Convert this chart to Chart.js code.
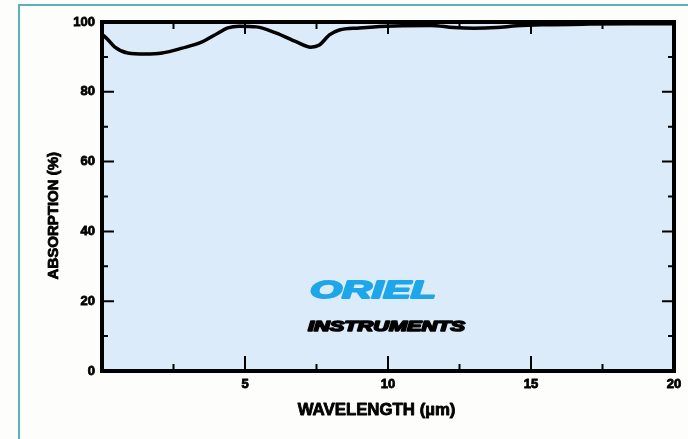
<!DOCTYPE html>
<html>
<head>
<meta charset="utf-8">
<script src="https://cdn.jsdelivr.net/npm/chart.js@4.4.1/dist/chart.umd.min.js"></script>
<style>
  html, body { margin: 0; padding: 0; background: #fdfdfb; }
  #wrap { position: relative; width: 688px; height: 439px; }
  canvas { display: block; }
</style>
</head>
<body>
<div id="wrap"><canvas id="c" width="688" height="439"></canvas></div>
<script>
// Absorption spectrum, wavelength in micrometres vs. absorption in percent
const wavelength = [0, 0.2, 0.45, 0.9, 1.5, 2.1, 2.8, 3.5, 4.05, 4.4, 4.8, 5.4, 6.1, 6.8, 7.3, 7.6, 7.95, 8.3, 9.0, 9.5, 10.5, 11.5, 12.3, 13.0, 13.8, 14.5, 15.5, 17.0, 18.5, 20.0];
const absorption = [96.5, 95.0, 92.8, 91.1, 90.8, 91.1, 92.5, 94.3, 96.8, 98.3, 98.8, 98.6, 96.8, 94.3, 92.8, 93.4, 96.3, 97.7, 98.3, 98.6, 98.9, 99.0, 98.4, 98.2, 98.4, 98.9, 99.2, 99.4, 99.5, 99.5];

// Axis ticks
const xMajorTicks = [5, 10, 15];
const xMinorTicks = [2.5, 7.5, 12.5, 17.5];
const yMajorTicks = [20, 40, 60, 80];
const yMinorTicks = [10, 30, 50, 70, 90];
const xTickLabels = ['', '5', '10', '15', '20'];
const yTickLabels = ['0', '20', '40', '60', '80', '100'];
const xTitle = 'WAVELENGTH (µm)';
const yTitle = 'ABSORPTION (%)';

const FONT = "'Liberation Sans', Arial, sans-serif";

// Heavy text: fill plus a thin stroke in the same colour
function heavyText(ctx, text, x, y, color, weight) {
  ctx.fillStyle = color;
  ctx.strokeStyle = color;
  ctx.lineWidth = weight;
  ctx.lineJoin = 'round';
  ctx.strokeText(text, x, y);
  ctx.fillText(text, x, y);
}

// Page frame, plot background, framing box, inward ticks, titles and logo
const framePlugin = {
  id: 'framePlugin',
  beforeDraw(chart) {
    const ctx = chart.ctx;
    const a = chart.chartArea;
    ctx.save();
    ctx.fillStyle = '#fdfdfb';
    ctx.fillRect(0, 0, chart.width, chart.height);
    ctx.strokeStyle = '#5fb0bd';
    ctx.lineWidth = 2;
    ctx.beginPath();
    ctx.moveTo(19, chart.height);
    ctx.lineTo(19, 5);
    ctx.lineTo(chart.width, 5);
    ctx.stroke();
    ctx.fillStyle = '#dbebfa';
    ctx.fillRect(a.left, a.top, a.right - a.left, a.bottom - a.top);
    ctx.restore();
  },
  afterDatasetsDraw(chart) {
    const ctx = chart.ctx;
    const a = chart.chartArea;
    const xs = chart.scales.x, ys = chart.scales.y;
    ctx.save();
    ctx.strokeStyle = '#000';
    ctx.lineWidth = 2;
    ctx.beginPath();
    xMajorTicks.forEach(v => {
      const px = xs.getPixelForValue(v);
      ctx.moveTo(px, a.bottom); ctx.lineTo(px, a.bottom - 15);
      ctx.moveTo(px, a.top); ctx.lineTo(px, a.top + 12);
    });
    xMinorTicks.forEach(v => {
      const px = xs.getPixelForValue(v);
      ctx.moveTo(px, a.bottom); ctx.lineTo(px, a.bottom - 7);
      ctx.moveTo(px, a.top); ctx.lineTo(px, a.top + 7);
    });
    yMajorTicks.forEach(v => {
      const py = ys.getPixelForValue(v);
      ctx.moveTo(a.left, py); ctx.lineTo(a.left + 12, py);
      ctx.moveTo(a.right, py); ctx.lineTo(a.right - 12, py);
    });
    yMinorTicks.forEach(v => {
      const py = ys.getPixelForValue(v);
      ctx.moveTo(a.left, py); ctx.lineTo(a.left + 6, py);
      ctx.moveTo(a.right, py); ctx.lineTo(a.right - 6, py);
    });
    ctx.stroke();
    ctx.lineWidth = 4;
    ctx.strokeRect(a.left, a.top, a.right - a.left, a.bottom - a.top);

    // Axis titles
    ctx.textAlign = 'center';
    ctx.textBaseline = 'middle';
    ctx.font = `bold 16px ${FONT}`;
    ctx.save();
    ctx.translate(xs.getPixelForValue(9.6), 411);
    ctx.scale(1.05, 1);
    heavyText(ctx, xTitle, 0, 0, '#000', 0.8);
    ctx.restore();
    ctx.save();
    ctx.translate(54, ys.getPixelForValue(44.5));
    ctx.rotate(-Math.PI / 2);
    ctx.font = `bold 15px ${FONT}`;
    heavyText(ctx, yTitle, 0, 0, '#000', 0.8);
    ctx.restore();

    // Logo
    ctx.textAlign = 'left';
    ctx.textBaseline = 'alphabetic';
    ctx.save();
    ctx.translate(xs.getPixelForValue(7.27), ys.getPixelForValue(20.9));
    ctx.scale(1.72, 1);
    ctx.font = `italic bold 24px ${FONT}`;
    heavyText(ctx, 'ORIEL', 0, 0, '#1ea6ea', 1.8);
    ctx.restore();
    ctx.save();
    ctx.translate(xs.getPixelForValue(7.2), ys.getPixelForValue(11.5));
    ctx.scale(1.45, 1);
    ctx.font = `italic bold 15px ${FONT}`;
    heavyText(ctx, 'INSTRUMENTS', 0, 0, '#000', 1.6);
    ctx.restore();
    ctx.restore();
  }
};

new Chart(document.getElementById('c'), {
  type: 'scatter',
  data: {
    datasets: [{
      data: wavelength.map((w, i) => ({ x: w, y: absorption[i] })),
      showLine: true,
      borderColor: '#000',
      borderWidth: 3.5,
      pointRadius: 0,
      cubicInterpolationMode: 'monotone',
      tension: 0.4,
      clip: 2
    }]
  },
  options: {
    responsive: false,
    animation: false,
    devicePixelRatio: 1,
    layout: { padding: { top: 22, right: 14, left: 0, bottom: 0 } },
    plugins: { legend: { display: false }, tooltip: { enabled: false } },
    scales: {
      x: {
        type: 'linear', min: 0, max: 20,
        border: { display: false },
        grid: { display: false, drawTicks: false },
        ticks: {
          stepSize: 5, padding: 6, color: '#000', maxRotation: 0,
          textStrokeColor: '#000', textStrokeWidth: 0.8,
          font: { family: FONT, size: 13, weight: 'bold' },
          callback: (v) => xTickLabels[Math.round(v / 5)]
        },
        afterFit(axis) { axis.height = 68; }
      },
      y: {
        min: 0, max: 100,
        border: { display: false },
        grid: { display: false, drawTicks: false },
        ticks: {
          stepSize: 20, padding: 7, color: '#000',
          textStrokeColor: '#000', textStrokeWidth: 0.8,
          font: { family: FONT, size: 13, weight: 'bold' },
          callback: (v) => yTickLabels[Math.round(v / 20)]
        },
        afterFit(axis) { axis.width = 102; }
      }
    }
  },
  plugins: [framePlugin]
});
</script>
</body>
</html>
